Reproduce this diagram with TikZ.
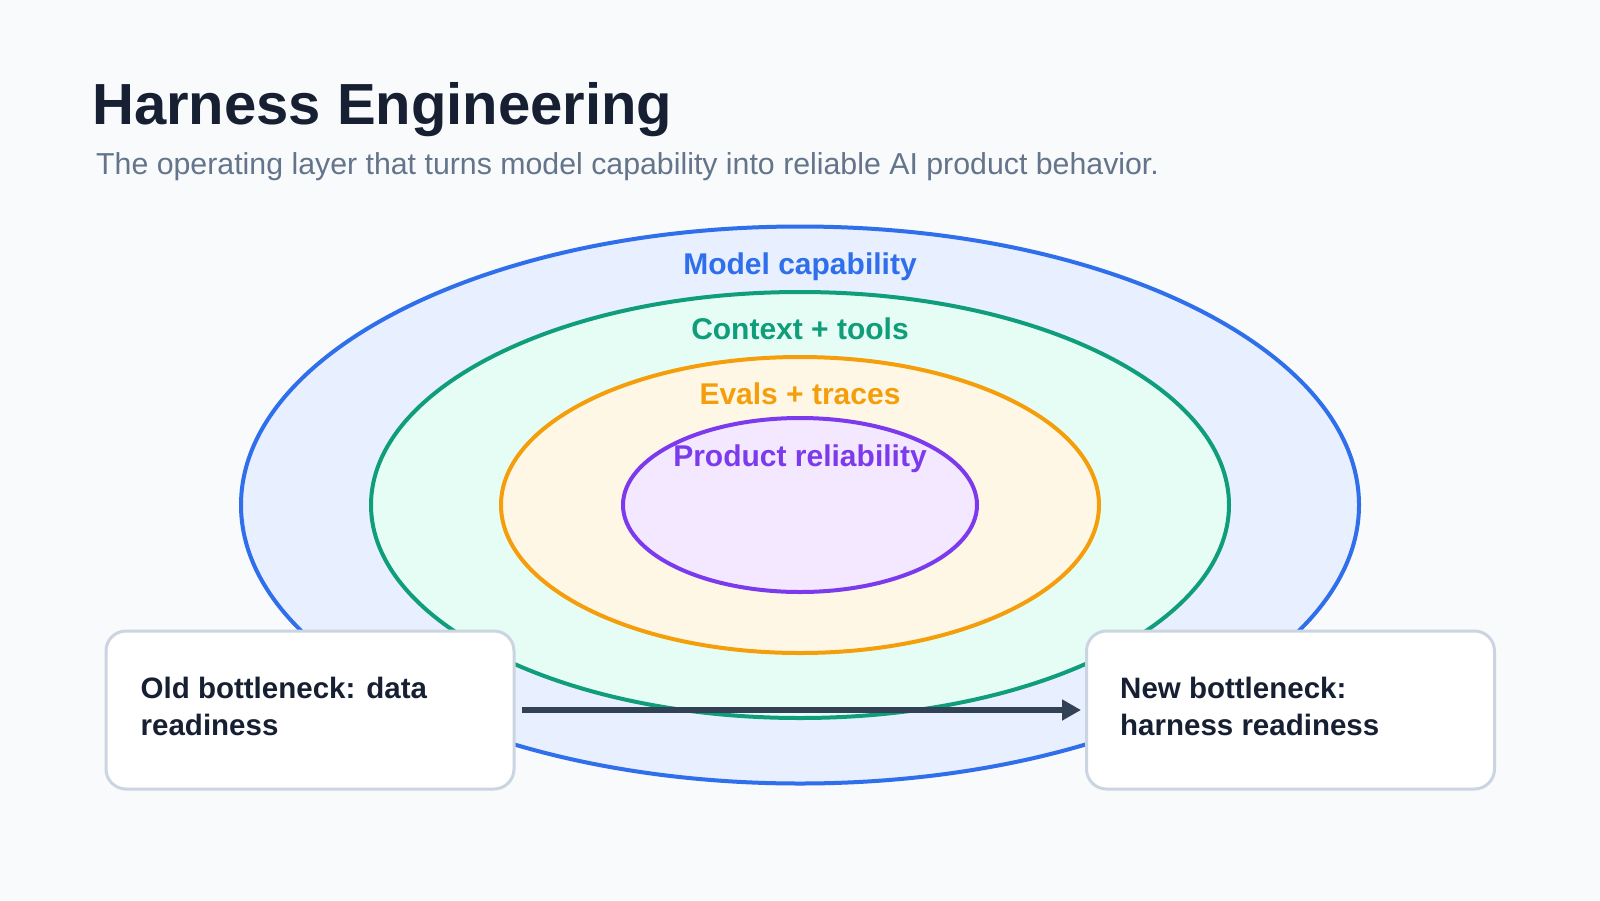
\documentclass[tikz,border=0pt]{standalone}
\usepackage{fontspec}
\setmainfont{Liberation Sans}
\usetikzlibrary{shapes.geometric,arrows.meta}
\definecolor{bg}{HTML}{F8FAFC}
\definecolor{ink}{HTML}{172033}
\definecolor{sub}{HTML}{64748B}
\definecolor{blueS}{HTML}{2F6FEB}
\definecolor{blueF}{HTML}{E8EFFE}
\definecolor{greenS}{HTML}{0F9D7A}
\definecolor{greenF}{HTML}{E6FDF5}
\definecolor{orangeS}{HTML}{F59E0B}
\definecolor{orangeF}{HTML}{FFF7E6}
\definecolor{purpleS}{HTML}{7C3AED}
\definecolor{purpleF}{HTML}{F3E8FF}
\definecolor{boxB}{HTML}{CBD5E1}
\definecolor{arrowC}{HTML}{334155}
\begin{document}
\begin{tikzpicture}[x=1pt,y=-1pt,
  ring/.style={ellipse, draw, line width=4pt, inner sep=0pt},
  lab/.style={anchor=base, inner sep=0pt, font=\fontsize{30}{36}\selectfont\bfseries},
  card/.style={draw=boxB, line width=3pt, fill=white, rounded corners=20pt,
    minimum width=408pt, minimum height=158pt, inner sep=0pt},
  cardtext/.style={anchor=base west, inner sep=0pt, align=left, text=ink,
    font=\fontsize{29.5}{37}\selectfont\bfseries},
  flow/.style={draw=arrowC, line width=6pt, -{Triangle[length=19pt,width=20pt]}}]
\useasboundingbox[fill=bg] (0,0) rectangle (1600,900);

\node[anchor=base west, inner sep=0pt, text=ink, font=\fontsize{58}{64}\selectfont\bfseries] (title) at (92,124) {Harness Engineering};
\node[anchor=base west, inner sep=0pt, text=sub, font=\fontsize{30.3}{36}\selectfont] (subtitle) at (96,174) {The operating layer that turns model capability into reliable AI product behavior.};

\node[ring, draw=blueS, fill=blueF, minimum width=1118pt, minimum height=557pt] (cap) at (800,505) {};
\node[ring, draw=greenS, fill=greenF, minimum width=858pt, minimum height=426pt] (ctx) at (800,505) {};
\node[ring, draw=orangeS, fill=orangeF, minimum width=598pt, minimum height=296pt] (evl) at (800,505) {};
\node[ring, draw=purpleS, fill=purpleF, minimum width=354pt, minimum height=174pt] (rel) at (800,505) {};

\node[lab, text=blueS] (capl) at (800,274) {Model capability};
\node[lab, text=greenS] (ctxl) at (800,339) {Context + tools};
\node[lab, text=orangeS] (evll) at (800,404) {Evals + traces};
\node[lab, text=purpleS] (rell) at (800,466) {Product reliability};

\node[card] (old) at (310,710) {};
\node[card] (new) at (1290.5,710) {};
\node[cardtext] (oldt) at (140.5,735) {Old bottleneck: data\\readiness};
\node[cardtext] (newt) at (1120,735) {New bottleneck:\\harness readiness};

\draw[flow] ([xshift=6pt]old.east) -- ([xshift=-4pt]new.west);
\end{tikzpicture}
\end{document}
